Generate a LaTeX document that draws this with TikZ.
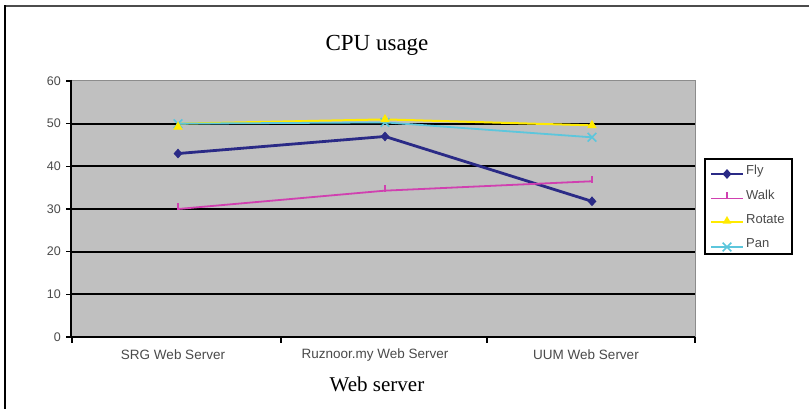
\documentclass[tikz,border=0pt]{standalone}
\usepackage{fontspec}
\setmainfont{Liberation Serif}
\newfontfamily\chartsans{Liberation Sans}
\usetikzlibrary{shapes.geometric,shapes.misc,calc}
\definecolor{plotgrey}{HTML}{C0C0C0}
\definecolor{flycol}{HTML}{2A2A86}
\definecolor{walkcol}{HTML}{D040B0}
\definecolor{rotcol}{HTML}{FFEA00}
\definecolor{pancol}{HTML}{5CC6DC}
\definecolor{labelgrey}{HTML}{4A4A4A}
\tikzset{
  gridline/.style={black, line width=2pt},
  axisline/.style={black, line width=2pt},
  ticklabel/.style={font=\chartsans\fontsize{12.5}{13}\selectfont, text=labelgrey, inner sep=0pt},
  catlabel/.style={font=\chartsans\fontsize{13.5}{14}\selectfont, text=labelgrey, inner sep=0pt},
  legendlabel/.style={font=\chartsans\fontsize{13}{14}\selectfont, text=labelgrey, inner sep=0pt, anchor=west},
  flyline/.style={flycol, line width=2.8pt},
  walkline/.style={walkcol, line width=1.8pt},
  rotline/.style={rotcol, line width=2pt},
  panline/.style={pancol, line width=1.8pt},
  flymark/.style={diamond, fill=flycol, inner sep=0pt, minimum width=9pt, minimum height=10pt},
  walkmark/.style={rectangle, fill=walkcol, inner sep=0pt, minimum width=2pt, minimum height=7pt},
  rotmark/.style={regular polygon, regular polygon sides=3, fill=rotcol, inner sep=0pt, minimum size=11pt},
  panmark/.style={cross out, draw=pancol, line width=1.6pt, inner sep=0pt, minimum size=7pt},
}
\begin{document}
\begin{tikzpicture}[x=1pt,y=-1pt]
\useasboundingbox (0,0) rectangle (809,409);
\fill[white] (0,0) rectangle (809,409);
% outer frame: top and left edges
\draw[black!70, line width=2pt] (5,6.5) -- (809,6.5);
\draw[black, line width=1.5pt] (5,5.5) -- (5,409);

% titles
\node[font=\fontsize{23}{26}\selectfont] (title) at (377,45) {CPU usage};
\node[font=\fontsize{21}{24}\selectfont] (xtitle) at (377,384) {Web server};

% plot area
\draw[fill=plotgrey, draw=black!45, line width=1pt] (71,81) rectangle (695,337);

% value grid lines, scale 4.2667 px per unit, zero at y=337
\foreach \v in {10,20,30,40,50} {
  \draw[gridline] (71,{337-\v*4.2667}) -- (695,{337-\v*4.2667});
}
% axes and ticks
\draw[axisline] (71,80) -- (71,338);
\draw[axisline] (70,337) -- (695,337);
\foreach \v in {0,10,...,60} {
  \draw[black, line width=1.5pt] (66,{337-\v*4.2667}) -- (71,{337-\v*4.2667});
  \node[ticklabel, anchor=east] (yl\v) at (61,{337-\v*4.2667}) {\v};
}
\foreach \x in {72,281,487,695} {
  \draw[black, line width=1.5pt] (\x,337) -- (\x,343);
}
\node[catlabel] (c1) at (173,355) {SRG Web Server};
\node[catlabel] (c2) at (375,355) {Ruznoor.my Web Server};
\node[catlabel] (c3) at (586,355) {UUM Web Server};

% data points
\begin{scope}[shift={(0,337)}, yscale=-4.2667]
  \coordinate (f1) at (178,43);   \coordinate (f2) at (385,47);   \coordinate (f3) at (592,31.8);
  \coordinate (w1) at (178,30);   \coordinate (w2) at (385,34.3); \coordinate (w3) at (592,36.5);
  \coordinate (r1) at (178,50);   \coordinate (r2) at (385,51);   \coordinate (r3) at (592,49.6);
  \coordinate (p1) at (178,50);   \coordinate (p2) at (385,50.3); \coordinate (p3) at (592,46.8);
  \coordinate (rm1) at (178,49);
\end{scope}

% series
\draw[flyline] (f1) -- (f2) -- (f3);
\draw[walkline] (w1) -- (w2) -- (w3);
\draw[rotline] (r1) -- (r2) -- (r3);
\draw[panline] (p1) -- (p2) -- (p3);
\foreach \i in {1,2,3} {
  \node[flymark] (fm\i) at (f\i) {};
  \node[walkmark] (wm\i) at ($(w\i)+(0,-2)$) {};
  \node[panmark] (pm\i) at (p\i) {};
}
\node[rotmark] (rmk1) at ([yshift=1pt]rm1) {};
\node[rotmark] (rmk2) at (r2) {};
\node[rotmark] (rmk3) at (r3) {};

% legend
\draw[black, line width=2.5pt, fill=white] (705,159) rectangle (792,254);
\coordinate (la1) at (711,174); \coordinate (lb1) at (743,174);
\coordinate (la2) at (711,198.5); \coordinate (lb2) at (743,198.5);
\coordinate (la3) at (711,222); \coordinate (lb3) at (743,222);
\coordinate (la4) at (711,247); \coordinate (lb4) at (743,247);
\draw[flyline, line width=2pt] (la1) -- (lb1);
\node[flymark] (lm1) at ($(la1)!0.5!(lb1)$) {};
\draw[walkline, line width=1.5pt] (la2) -- (lb2);
\node[walkmark, minimum height=6pt] (lm2) at ($(la2)!0.5!(lb2)+(0,-3)$) {};
\draw[rotline, line width=1.5pt] (la3) -- (lb3);
\node[rotmark, minimum size=10pt] (lm3) at ($(la3)!0.5!(lb3)+(0,-1)$) {};
\draw[panline, line width=1.5pt] (la4) -- (lb4);
\node[panmark] (lm4) at ($(la4)!0.5!(lb4)$) {};
\node[legendlabel] (lt1) at (746,171) {Fly};
\node[legendlabel] (lt2) at (746,195) {Walk};
\node[legendlabel] (lt3) at (746,219) {Rotate};
\node[legendlabel] (lt4) at (746,243) {Pan};
\end{tikzpicture}
\end{document}
